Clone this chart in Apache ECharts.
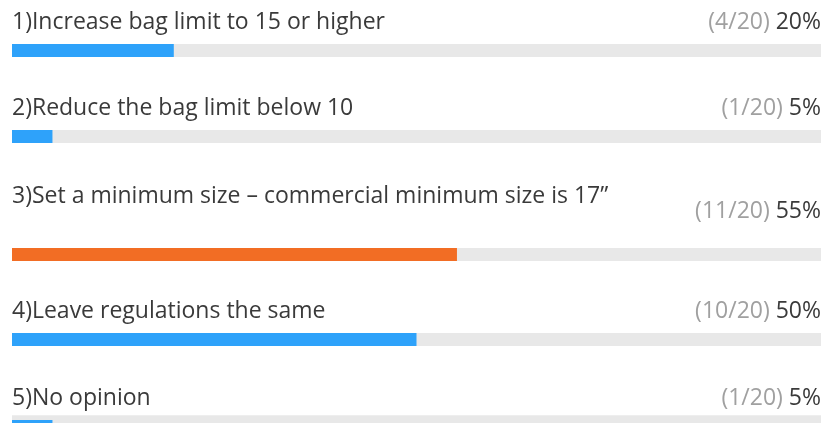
<!DOCTYPE html>
<html>
<head>
<meta charset="utf-8">
<style>
html,body{margin:0;padding:0;background:#fff;}
#chart{width:823px;height:423px;}
</style>
<script src="https://cdn.jsdelivr.net/npm/echarts@6/dist/echarts.min.js"></script>
</head>
<body>
<div id="chart"></div>
<script>
// ---- data ----
const questions = [
  '1)Increase bag limit to 15 or higher',
  '2)Reduce the bag limit below 10',
  '3)Set a minimum size \u2013 commercial minimum size is 17\u201d',
  '4)Leave regulations the same',
  '5)No opinion'
];
const counts = [4, 1, 11, 10, 1];
const totals = [20, 20, 20, 20, 20];
const percents = [20, 5, 55, 50, 5];

// ---- layout / style ----
const gridTops = [44, 130, 248, 333, 420];
const questionOffset = [-22, -22, -52, -22, -22];
const rightOffset = [-22, -22, -37, -22, -22];
const blue = '#2ea2fa';
const orange = '#f26d24';
const barColor = [blue, blue, orange, blue, blue];
const FONT = 'Open Sans';
const FS = 23;

const grids = [], xAxes = [], yAxes = [], series = [];
questions.forEach((q, i) => {
  grids.push({left: 12, right: 2, top: gridTops[i], height: 13});
  xAxes.push({gridIndex: i, type: 'value', min: 0, max: 100, show: false});
  yAxes.push({gridIndex: i, type: 'category', data: [q], show: false});
  series.push({
    type: 'bar', xAxisIndex: i, yAxisIndex: i,
    barWidth: 13, silent: true,
    showBackground: true,
    backgroundStyle: {color: '#e8e8e8'},
    itemStyle: {color: barColor[i]},
    data: [percents[i]],
    label: {
      show: true, position: [0, questionOffset[i]],
      align: 'left', verticalAlign: 'middle',
      fontFamily: FONT, fontSize: FS, color: '#3a3a3a',
      formatter: () => questions[i]
    }
  });
  series.push({
    type: 'bar', xAxisIndex: i, yAxisIndex: i,
    barWidth: 13, barGap: '-100%', silent: true,
    itemStyle: {color: 'rgba(0,0,0,0)'},
    data: [100],
    label: {
      show: true, position: ['100%', rightOffset[i]],
      align: 'right', verticalAlign: 'middle',
      fontFamily: FONT, fontSize: FS,
      formatter: () => '{c|(' + counts[i] + '/' + totals[i] + ')} {p|' + percents[i] + '%}',
      rich: {
        c: {fontFamily: FONT, fontSize: FS, color: '#a0a0a0'},
        p: {fontFamily: FONT, fontSize: FS, color: '#3a3a3a'}
      }
    }
  });
});

const chart = echarts.init(document.getElementById('chart'), null, {renderer: 'canvas'});
chart.setOption({
  animation: false,
  grid: grids, xAxis: xAxes, yAxis: yAxes, series: series
});
</script>
</body>
</html>
